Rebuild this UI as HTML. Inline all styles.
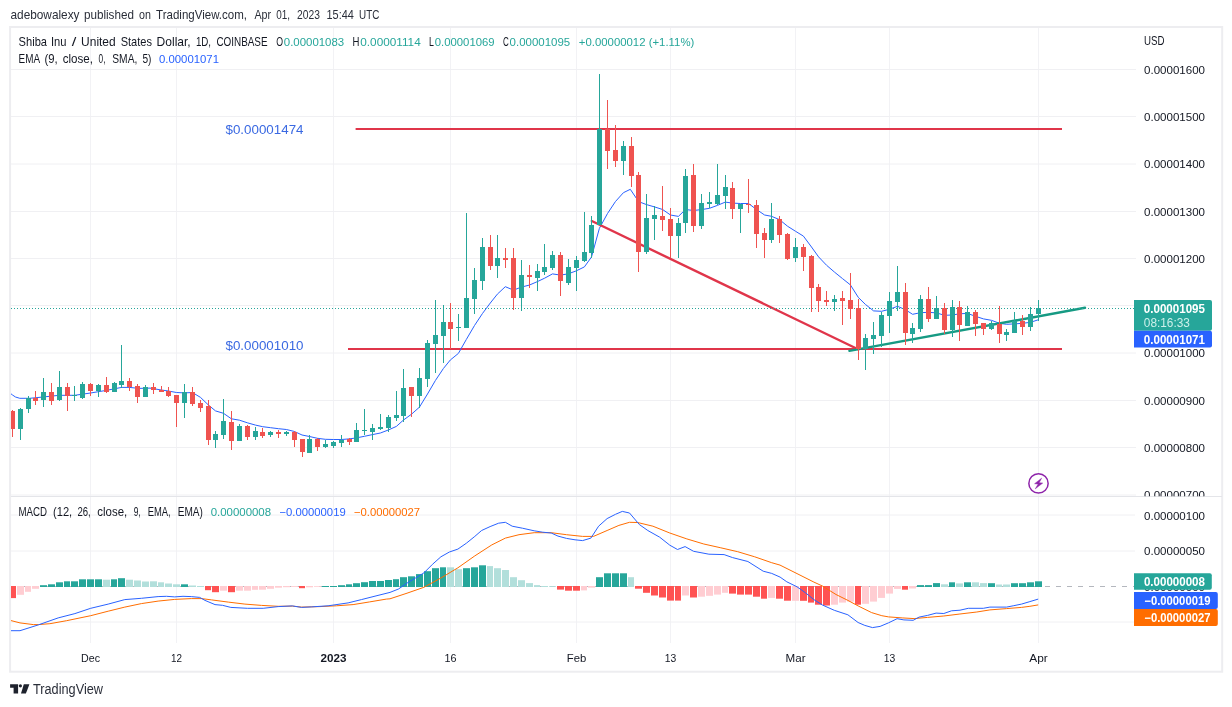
<!DOCTYPE html>
<html lang="en"><head><meta charset="utf-8"><title>SHIBUSD chart</title>
<style>html,body{margin:0;padding:0;background:#fff;}body{width:1232px;height:707px;overflow:hidden;}svg{display:block;}</style>
</head><body>
<svg width="1232" height="707" viewBox="0 0 1232 707" font-family='"Liberation Sans", Arial, sans-serif'>
<rect width="1232" height="707" fill="#ffffff"/>
<text y="18.9" font-size="13" fill="#2a2e39" font-weight="normal"><tspan x="10.5" textLength="69.0" lengthAdjust="spacingAndGlyphs">adebowalexy</tspan> <tspan x="83.9" textLength="50.0" lengthAdjust="spacingAndGlyphs">published</tspan> <tspan x="139.1" textLength="11.9" lengthAdjust="spacingAndGlyphs">on</tspan> <tspan x="156.1" textLength="90.9" lengthAdjust="spacingAndGlyphs">TradingView.com,</tspan> <tspan x="254.5" textLength="16.6" lengthAdjust="spacingAndGlyphs">Apr</tspan> <tspan x="276.2" textLength="13.8" lengthAdjust="spacingAndGlyphs">01,</tspan> <tspan x="297.1" textLength="22.9" lengthAdjust="spacingAndGlyphs">2023</tspan> <tspan x="326.5" textLength="27.4" lengthAdjust="spacingAndGlyphs">15:44</tspan> <tspan x="359.0" textLength="20.3" lengthAdjust="spacingAndGlyphs">UTC</tspan></text>
<rect x="10.1" y="27" width="1212.1" height="644.7" fill="#ffffff" stroke="#ededf0" stroke-width="2"/>
<line x1="90.5" y1="28" x2="90.5" y2="643" stroke="#f2f2f5" stroke-width="1"/>
<line x1="176.5" y1="28" x2="176.5" y2="643" stroke="#f2f2f5" stroke-width="1"/>
<line x1="333.5" y1="28" x2="333.5" y2="643" stroke="#f2f2f5" stroke-width="1"/>
<line x1="450.5" y1="28" x2="450.5" y2="643" stroke="#f2f2f5" stroke-width="1"/>
<line x1="576.5" y1="28" x2="576.5" y2="643" stroke="#f2f2f5" stroke-width="1"/>
<line x1="670.5" y1="28" x2="670.5" y2="643" stroke="#f2f2f5" stroke-width="1"/>
<line x1="795.5" y1="28" x2="795.5" y2="643" stroke="#f2f2f5" stroke-width="1"/>
<line x1="889.5" y1="28" x2="889.5" y2="643" stroke="#f2f2f5" stroke-width="1"/>
<line x1="1038.5" y1="28" x2="1038.5" y2="643" stroke="#f2f2f5" stroke-width="1"/>
<line x1="11" y1="69.5" x2="1136" y2="69.5" stroke="#f0f0f3" stroke-width="1"/>
<line x1="11" y1="116.5" x2="1136" y2="116.5" stroke="#f0f0f3" stroke-width="1"/>
<line x1="11" y1="164" x2="1136" y2="164" stroke="#f0f0f3" stroke-width="1"/>
<line x1="11" y1="211.5" x2="1136" y2="211.5" stroke="#f0f0f3" stroke-width="1"/>
<line x1="11" y1="258.5" x2="1136" y2="258.5" stroke="#f0f0f3" stroke-width="1"/>
<line x1="11" y1="305.5" x2="1136" y2="305.5" stroke="#f0f0f3" stroke-width="1"/>
<line x1="11" y1="353" x2="1136" y2="353" stroke="#f0f0f3" stroke-width="1"/>
<line x1="11" y1="400.5" x2="1136" y2="400.5" stroke="#f0f0f3" stroke-width="1"/>
<line x1="11" y1="447.5" x2="1136" y2="447.5" stroke="#f0f0f3" stroke-width="1"/>
<line x1="11" y1="495" x2="1136" y2="495" stroke="#f0f0f3" stroke-width="1"/>
<line x1="11" y1="515" x2="1135" y2="515" stroke="#f0f0f3" stroke-width="1"/>
<line x1="11" y1="551" x2="1135" y2="551" stroke="#f0f0f3" stroke-width="1"/>
<line x1="11" y1="622" x2="1135" y2="622" stroke="#f0f0f3" stroke-width="1"/>
<line x1="11" y1="496.5" x2="1222" y2="496.5" stroke="#e4e5e9" stroke-width="1"/>
<defs><clipPath id="cm"><rect x="11" y="28" width="1123" height="468"/></clipPath><clipPath id="ca"><rect x="1134" y="28" width="88" height="468.3"/></clipPath><clipPath id="cd"><rect x="11" y="497" width="1123" height="146"/></clipPath></defs>
<g clip-path="url(#cm)">
<line x1="355.6" y1="129" x2="1062" y2="129" stroke="#e0354a" stroke-width="2"/>
<line x1="348" y1="349" x2="1062" y2="349" stroke="#e0354a" stroke-width="2"/>
<polyline points="10.0,393.0 12.5,395.0 15.5,397.0 19.8,398.3 29.7,398.3 40.0,397.3 59.4,395.3 74.7,395.3 90.5,393.0 106.3,390.4 121.6,387.4 129.5,387.4 138.6,388.4 150.0,388.1 161.3,390.0 168.4,391.0 176.5,392.5 184.5,392.9 192.4,392.5 200.5,397.4 208.4,405.0 215.5,410.9 223.5,413.3 231.4,418.8 239.5,420.2 247.4,422.8 255.5,425.1 262.7,426.7 270.6,427.7 278.5,428.7 286.4,429.5 294.5,431.5 302.0,435.0 309.5,436.5 317.4,438.3 325.3,439.3 333.3,439.5 341.4,439.5 349.3,438.9 356.4,437.9 364.4,436.3 372.5,434.6 380.4,433.0 388.3,430.0 396.4,426.4 403.4,420.1 411.5,414.2 419.4,407.2 427.5,394.0 435.4,380.5 443.4,368.5 450.3,360.0 458.4,353.4 466.3,339.5 474.5,325.5 482.4,313.6 490.3,303.0 497.4,294.1 505.3,286.7 513.5,290.1 521.4,287.1 529.3,285.1 537.4,281.6 544.6,278.2 552.5,273.9 560.6,275.1 568.3,273.8 576.2,270.9 584.4,266.9 591.5,257.0 599.4,228.3 607.5,213.5 615.4,201.6 623.4,192.7 630.3,189.3 638.6,201.6 646.5,204.6 654.5,206.9 662.6,209.5 670.5,215.0 678.4,216.4 685.5,209.5 693.5,210.5 701.4,209.6 709.5,208.3 717.4,205.4 725.3,202.1 732.5,203.1 740.6,203.5 748.5,203.5 756.4,209.4 764.6,215.0 771.5,216.3 779.6,219.7 787.5,226.2 795.4,231.2 803.4,236.1 811.5,247.0 818.6,256.9 826.6,265.3 834.6,272.2 842.5,278.6 850.4,284.9 858.3,297.4 865.4,304.4 873.6,310.9 881.5,311.3 889.4,309.3 897.5,306.3 905.4,309.7 912.6,314.3 920.5,312.7 928.6,312.3 936.5,312.9 944.5,315.3 952.4,315.0 959.5,313.8 967.4,313.4 975.5,316.3 983.5,318.9 991.4,320.3 999.5,323.3 1006.4,324.3 1014.6,323.9 1022.5,323.3 1030.6,322.3 1038.5,319.7" fill="none" stroke="#2962ff" stroke-width="1" stroke-linejoin="round"/>
<line x1="591.8" y1="221" x2="857.5" y2="349" stroke="#e0354a" stroke-width="2.4" stroke-linecap="round"/>
<line x1="849.4" y1="350.9" x2="1085" y2="307.8" stroke="#169a83" stroke-width="2.4" stroke-linecap="round"/>
<line x1="11" y1="308.5" x2="1134" y2="308.5" stroke="#26a69a" stroke-width="1" stroke-dasharray="1 2"/>
<rect x="12" y="410" width="1" height="27" fill="#ef5350"/>
<rect x="10" y="411" width="5" height="18" fill="#ef5350"/>
<rect x="20" y="408" width="1" height="32" fill="#26a69a"/>
<rect x="18" y="409" width="5" height="20" fill="#26a69a"/>
<rect x="28" y="396" width="1" height="17" fill="#26a69a"/>
<rect x="26" y="398" width="5" height="11" fill="#26a69a"/>
<rect x="35" y="391" width="1" height="14" fill="#ef5350"/>
<rect x="33" y="398" width="5" height="3" fill="#ef5350"/>
<rect x="43" y="378" width="1" height="29" fill="#26a69a"/>
<rect x="41" y="392" width="5" height="8" fill="#26a69a"/>
<rect x="51" y="383" width="1" height="22" fill="#ef5350"/>
<rect x="49" y="392" width="5" height="9" fill="#ef5350"/>
<rect x="59" y="371" width="1" height="30" fill="#26a69a"/>
<rect x="57" y="387" width="5" height="13" fill="#26a69a"/>
<rect x="67" y="383" width="1" height="28" fill="#ef5350"/>
<rect x="65" y="387" width="5" height="9" fill="#ef5350"/>
<rect x="74" y="386" width="1" height="15" fill="#26a69a"/>
<rect x="72" y="395" width="5" height="1" fill="#26a69a"/>
<rect x="82" y="382" width="1" height="17" fill="#26a69a"/>
<rect x="80" y="384" width="5" height="14" fill="#26a69a"/>
<rect x="90" y="383" width="1" height="13" fill="#ef5350"/>
<rect x="88" y="384" width="5" height="7" fill="#ef5350"/>
<rect x="98" y="384" width="1" height="13" fill="#26a69a"/>
<rect x="96" y="385" width="5" height="6" fill="#26a69a"/>
<rect x="106" y="377" width="1" height="16" fill="#ef5350"/>
<rect x="104" y="385" width="5" height="7" fill="#ef5350"/>
<rect x="114" y="382" width="1" height="10" fill="#26a69a"/>
<rect x="112" y="383" width="5" height="9" fill="#26a69a"/>
<rect x="121" y="345" width="1" height="43" fill="#26a69a"/>
<rect x="119" y="381" width="5" height="4" fill="#26a69a"/>
<rect x="129" y="378" width="1" height="13" fill="#ef5350"/>
<rect x="127" y="381" width="5" height="6" fill="#ef5350"/>
<rect x="137" y="384" width="1" height="19" fill="#ef5350"/>
<rect x="135" y="386" width="5" height="11" fill="#ef5350"/>
<rect x="145" y="385" width="1" height="12" fill="#26a69a"/>
<rect x="143" y="387" width="5" height="10" fill="#26a69a"/>
<rect x="153" y="383" width="1" height="11" fill="#ef5350"/>
<rect x="151" y="387" width="5" height="3" fill="#ef5350"/>
<rect x="161" y="386" width="1" height="6" fill="#ef5350"/>
<rect x="159" y="390" width="5" height="2" fill="#ef5350"/>
<rect x="168" y="387" width="1" height="10" fill="#ef5350"/>
<rect x="166" y="391" width="5" height="5" fill="#ef5350"/>
<rect x="176" y="395" width="1" height="32" fill="#ef5350"/>
<rect x="174" y="395" width="5" height="8" fill="#ef5350"/>
<rect x="184" y="384" width="1" height="34" fill="#26a69a"/>
<rect x="182" y="392" width="5" height="11" fill="#26a69a"/>
<rect x="192" y="387" width="1" height="19" fill="#ef5350"/>
<rect x="190" y="392" width="5" height="12" fill="#ef5350"/>
<rect x="200" y="400" width="1" height="12" fill="#ef5350"/>
<rect x="198" y="403" width="5" height="5" fill="#ef5350"/>
<rect x="208" y="400" width="1" height="45" fill="#ef5350"/>
<rect x="206" y="406" width="5" height="34" fill="#ef5350"/>
<rect x="215" y="431" width="1" height="17" fill="#26a69a"/>
<rect x="213" y="434" width="5" height="6" fill="#26a69a"/>
<rect x="223" y="399" width="1" height="40" fill="#26a69a"/>
<rect x="221" y="421" width="5" height="14" fill="#26a69a"/>
<rect x="231" y="411" width="1" height="39" fill="#ef5350"/>
<rect x="229" y="422" width="5" height="19" fill="#ef5350"/>
<rect x="239" y="424" width="1" height="17" fill="#26a69a"/>
<rect x="237" y="426" width="5" height="15" fill="#26a69a"/>
<rect x="247" y="425" width="1" height="15" fill="#ef5350"/>
<rect x="245" y="426" width="5" height="11" fill="#ef5350"/>
<rect x="255" y="427" width="1" height="13" fill="#26a69a"/>
<rect x="253" y="431" width="5" height="6" fill="#26a69a"/>
<rect x="262" y="428" width="1" height="10" fill="#ef5350"/>
<rect x="260" y="432" width="5" height="4" fill="#ef5350"/>
<rect x="270" y="431" width="1" height="6" fill="#26a69a"/>
<rect x="268" y="432" width="5" height="3" fill="#26a69a"/>
<rect x="278" y="430" width="1" height="8" fill="#ef5350"/>
<rect x="276" y="432" width="5" height="2" fill="#ef5350"/>
<rect x="286" y="431" width="1" height="5" fill="#26a69a"/>
<rect x="284" y="432" width="5" height="2" fill="#26a69a"/>
<rect x="294" y="431" width="1" height="16" fill="#ef5350"/>
<rect x="292" y="432" width="5" height="8" fill="#ef5350"/>
<rect x="302" y="439" width="1" height="18" fill="#ef5350"/>
<rect x="300" y="439" width="5" height="13" fill="#ef5350"/>
<rect x="309" y="435" width="1" height="18" fill="#26a69a"/>
<rect x="307" y="439" width="5" height="14" fill="#26a69a"/>
<rect x="317" y="438" width="1" height="13" fill="#ef5350"/>
<rect x="315" y="439" width="5" height="8" fill="#ef5350"/>
<rect x="325" y="440" width="1" height="8" fill="#26a69a"/>
<rect x="323" y="444" width="5" height="3" fill="#26a69a"/>
<rect x="333" y="441" width="1" height="7" fill="#26a69a"/>
<rect x="331" y="442" width="5" height="4" fill="#26a69a"/>
<rect x="341" y="435" width="1" height="12" fill="#26a69a"/>
<rect x="339" y="440" width="5" height="3" fill="#26a69a"/>
<rect x="349" y="438" width="1" height="7" fill="#ef5350"/>
<rect x="347" y="439" width="5" height="3" fill="#ef5350"/>
<rect x="356" y="423" width="1" height="19" fill="#26a69a"/>
<rect x="354" y="430" width="5" height="12" fill="#26a69a"/>
<rect x="364" y="409" width="1" height="26" fill="#26a69a"/>
<rect x="362" y="430" width="5" height="1" fill="#26a69a"/>
<rect x="372" y="424" width="1" height="16" fill="#26a69a"/>
<rect x="370" y="428" width="5" height="4" fill="#26a69a"/>
<rect x="380" y="414" width="1" height="16" fill="#26a69a"/>
<rect x="378" y="427" width="5" height="2" fill="#26a69a"/>
<rect x="388" y="415" width="1" height="17" fill="#26a69a"/>
<rect x="386" y="417" width="5" height="11" fill="#26a69a"/>
<rect x="396" y="391" width="1" height="30" fill="#26a69a"/>
<rect x="394" y="415" width="5" height="3" fill="#26a69a"/>
<rect x="403" y="369" width="1" height="53" fill="#26a69a"/>
<rect x="401" y="388" width="5" height="28" fill="#26a69a"/>
<rect x="411" y="387" width="1" height="30" fill="#ef5350"/>
<rect x="409" y="387" width="5" height="9" fill="#ef5350"/>
<rect x="419" y="368" width="1" height="40" fill="#26a69a"/>
<rect x="417" y="378" width="5" height="18" fill="#26a69a"/>
<rect x="427" y="340" width="1" height="47" fill="#26a69a"/>
<rect x="425" y="343" width="5" height="36" fill="#26a69a"/>
<rect x="435" y="300" width="1" height="73" fill="#26a69a"/>
<rect x="433" y="335" width="5" height="9" fill="#26a69a"/>
<rect x="443" y="305" width="1" height="58" fill="#26a69a"/>
<rect x="441" y="322" width="5" height="14" fill="#26a69a"/>
<rect x="450" y="303" width="1" height="46" fill="#ef5350"/>
<rect x="448" y="322" width="5" height="7" fill="#ef5350"/>
<rect x="458" y="314" width="1" height="27" fill="#26a69a"/>
<rect x="456" y="327" width="5" height="1" fill="#26a69a"/>
<rect x="466" y="213" width="1" height="115" fill="#26a69a"/>
<rect x="464" y="298" width="5" height="30" fill="#26a69a"/>
<rect x="474" y="268" width="1" height="46" fill="#26a69a"/>
<rect x="472" y="280" width="5" height="19" fill="#26a69a"/>
<rect x="482" y="238" width="1" height="52" fill="#26a69a"/>
<rect x="480" y="247" width="5" height="34" fill="#26a69a"/>
<rect x="490" y="235" width="1" height="35" fill="#ef5350"/>
<rect x="488" y="247" width="5" height="19" fill="#ef5350"/>
<rect x="497" y="235" width="1" height="43" fill="#26a69a"/>
<rect x="495" y="258" width="5" height="8" fill="#26a69a"/>
<rect x="505" y="248" width="1" height="20" fill="#ef5350"/>
<rect x="503" y="258" width="5" height="2" fill="#ef5350"/>
<rect x="513" y="248" width="1" height="62" fill="#ef5350"/>
<rect x="511" y="258" width="5" height="40" fill="#ef5350"/>
<rect x="521" y="260" width="1" height="51" fill="#26a69a"/>
<rect x="519" y="275" width="5" height="23" fill="#26a69a"/>
<rect x="529" y="265" width="1" height="23" fill="#ef5350"/>
<rect x="527" y="275" width="5" height="2" fill="#ef5350"/>
<rect x="537" y="264" width="1" height="27" fill="#26a69a"/>
<rect x="535" y="271" width="5" height="7" fill="#26a69a"/>
<rect x="544" y="244" width="1" height="31" fill="#26a69a"/>
<rect x="542" y="267" width="5" height="5" fill="#26a69a"/>
<rect x="552" y="251" width="1" height="19" fill="#26a69a"/>
<rect x="550" y="255" width="5" height="13" fill="#26a69a"/>
<rect x="560" y="252" width="1" height="44" fill="#ef5350"/>
<rect x="558" y="255" width="5" height="26" fill="#ef5350"/>
<rect x="568" y="259" width="1" height="26" fill="#26a69a"/>
<rect x="566" y="267" width="5" height="16" fill="#26a69a"/>
<rect x="576" y="256" width="1" height="35" fill="#26a69a"/>
<rect x="574" y="260" width="5" height="8" fill="#26a69a"/>
<rect x="584" y="212" width="1" height="50" fill="#26a69a"/>
<rect x="582" y="252" width="5" height="9" fill="#26a69a"/>
<rect x="591" y="216" width="1" height="42" fill="#26a69a"/>
<rect x="589" y="225" width="5" height="28" fill="#26a69a"/>
<rect x="599" y="74" width="1" height="151" fill="#26a69a"/>
<rect x="597" y="129" width="5" height="96" fill="#26a69a"/>
<rect x="607" y="100" width="1" height="69" fill="#ef5350"/>
<rect x="605" y="129" width="5" height="22" fill="#ef5350"/>
<rect x="615" y="125" width="1" height="42" fill="#ef5350"/>
<rect x="613" y="150" width="5" height="11" fill="#ef5350"/>
<rect x="623" y="141" width="1" height="34" fill="#26a69a"/>
<rect x="621" y="146" width="5" height="15" fill="#26a69a"/>
<rect x="631" y="137" width="1" height="50" fill="#ef5350"/>
<rect x="629" y="146" width="5" height="30" fill="#ef5350"/>
<rect x="638" y="172" width="1" height="100" fill="#ef5350"/>
<rect x="636" y="175" width="5" height="77" fill="#ef5350"/>
<rect x="646" y="194" width="1" height="60" fill="#26a69a"/>
<rect x="644" y="218" width="5" height="34" fill="#26a69a"/>
<rect x="654" y="206" width="1" height="34" fill="#26a69a"/>
<rect x="652" y="215" width="5" height="4" fill="#26a69a"/>
<rect x="662" y="186" width="1" height="45" fill="#ef5350"/>
<rect x="660" y="216" width="5" height="4" fill="#ef5350"/>
<rect x="670" y="208" width="1" height="50" fill="#ef5350"/>
<rect x="668" y="219" width="5" height="17" fill="#ef5350"/>
<rect x="678" y="218" width="1" height="40" fill="#26a69a"/>
<rect x="676" y="223" width="5" height="13" fill="#26a69a"/>
<rect x="685" y="169" width="1" height="64" fill="#26a69a"/>
<rect x="683" y="176" width="5" height="47" fill="#26a69a"/>
<rect x="693" y="164" width="1" height="68" fill="#ef5350"/>
<rect x="691" y="175" width="5" height="51" fill="#ef5350"/>
<rect x="701" y="194" width="1" height="35" fill="#26a69a"/>
<rect x="699" y="203" width="5" height="23" fill="#26a69a"/>
<rect x="709" y="192" width="1" height="16" fill="#26a69a"/>
<rect x="707" y="202" width="5" height="2" fill="#26a69a"/>
<rect x="717" y="164" width="1" height="41" fill="#26a69a"/>
<rect x="715" y="195" width="5" height="9" fill="#26a69a"/>
<rect x="725" y="175" width="1" height="34" fill="#26a69a"/>
<rect x="723" y="187" width="5" height="9" fill="#26a69a"/>
<rect x="732" y="182" width="1" height="37" fill="#ef5350"/>
<rect x="730" y="188" width="5" height="21" fill="#ef5350"/>
<rect x="740" y="204" width="1" height="29" fill="#26a69a"/>
<rect x="738" y="204" width="5" height="5" fill="#26a69a"/>
<rect x="748" y="179" width="1" height="34" fill="#ef5350"/>
<rect x="746" y="204" width="5" height="1" fill="#ef5350"/>
<rect x="756" y="200" width="1" height="48" fill="#ef5350"/>
<rect x="754" y="205" width="5" height="29" fill="#ef5350"/>
<rect x="764" y="228" width="1" height="30" fill="#ef5350"/>
<rect x="762" y="233" width="5" height="7" fill="#ef5350"/>
<rect x="771" y="203" width="1" height="40" fill="#26a69a"/>
<rect x="769" y="219" width="5" height="21" fill="#26a69a"/>
<rect x="779" y="216" width="1" height="27" fill="#ef5350"/>
<rect x="777" y="219" width="5" height="16" fill="#ef5350"/>
<rect x="787" y="233" width="1" height="27" fill="#ef5350"/>
<rect x="785" y="234" width="5" height="25" fill="#ef5350"/>
<rect x="795" y="238" width="1" height="24" fill="#26a69a"/>
<rect x="793" y="247" width="5" height="11" fill="#26a69a"/>
<rect x="803" y="244" width="1" height="27" fill="#ef5350"/>
<rect x="801" y="247" width="5" height="10" fill="#ef5350"/>
<rect x="811" y="255" width="1" height="57" fill="#ef5350"/>
<rect x="809" y="256" width="5" height="32" fill="#ef5350"/>
<rect x="818" y="284" width="1" height="28" fill="#ef5350"/>
<rect x="816" y="287" width="5" height="14" fill="#ef5350"/>
<rect x="826" y="291" width="1" height="15" fill="#ef5350"/>
<rect x="824" y="300" width="5" height="2" fill="#ef5350"/>
<rect x="834" y="295" width="1" height="16" fill="#26a69a"/>
<rect x="832" y="299" width="5" height="3" fill="#26a69a"/>
<rect x="842" y="291" width="1" height="34" fill="#ef5350"/>
<rect x="840" y="298" width="5" height="3" fill="#ef5350"/>
<rect x="850" y="273" width="1" height="46" fill="#ef5350"/>
<rect x="848" y="300" width="5" height="9" fill="#ef5350"/>
<rect x="858" y="299" width="1" height="61" fill="#ef5350"/>
<rect x="856" y="308" width="5" height="41" fill="#ef5350"/>
<rect x="865" y="334" width="1" height="36" fill="#26a69a"/>
<rect x="863" y="338" width="5" height="11" fill="#26a69a"/>
<rect x="873" y="322" width="1" height="32" fill="#26a69a"/>
<rect x="871" y="335" width="5" height="4" fill="#26a69a"/>
<rect x="881" y="312" width="1" height="35" fill="#26a69a"/>
<rect x="879" y="315" width="5" height="21" fill="#26a69a"/>
<rect x="889" y="292" width="1" height="41" fill="#26a69a"/>
<rect x="887" y="301" width="5" height="15" fill="#26a69a"/>
<rect x="897" y="266" width="1" height="45" fill="#26a69a"/>
<rect x="895" y="292" width="5" height="10" fill="#26a69a"/>
<rect x="905" y="283" width="1" height="62" fill="#ef5350"/>
<rect x="903" y="292" width="5" height="41" fill="#ef5350"/>
<rect x="912" y="323" width="1" height="20" fill="#26a69a"/>
<rect x="910" y="328" width="5" height="6" fill="#26a69a"/>
<rect x="920" y="295" width="1" height="37" fill="#26a69a"/>
<rect x="918" y="299" width="5" height="30" fill="#26a69a"/>
<rect x="928" y="287" width="1" height="35" fill="#ef5350"/>
<rect x="926" y="299" width="5" height="20" fill="#ef5350"/>
<rect x="936" y="296" width="1" height="23" fill="#26a69a"/>
<rect x="934" y="308" width="5" height="11" fill="#26a69a"/>
<rect x="944" y="303" width="1" height="31" fill="#ef5350"/>
<rect x="942" y="308" width="5" height="22" fill="#ef5350"/>
<rect x="952" y="300" width="1" height="37" fill="#26a69a"/>
<rect x="950" y="307" width="5" height="23" fill="#26a69a"/>
<rect x="959" y="301" width="1" height="40" fill="#ef5350"/>
<rect x="957" y="307" width="5" height="18" fill="#ef5350"/>
<rect x="967" y="306" width="1" height="20" fill="#26a69a"/>
<rect x="965" y="312" width="5" height="14" fill="#26a69a"/>
<rect x="975" y="310" width="1" height="26" fill="#ef5350"/>
<rect x="973" y="312" width="5" height="12" fill="#ef5350"/>
<rect x="983" y="323" width="1" height="12" fill="#ef5350"/>
<rect x="981" y="323" width="5" height="6" fill="#ef5350"/>
<rect x="991" y="321" width="1" height="9" fill="#26a69a"/>
<rect x="989" y="323" width="5" height="6" fill="#26a69a"/>
<rect x="999" y="306" width="1" height="37" fill="#ef5350"/>
<rect x="997" y="324" width="5" height="10" fill="#ef5350"/>
<rect x="1006" y="329" width="1" height="12" fill="#26a69a"/>
<rect x="1004" y="332" width="5" height="3" fill="#26a69a"/>
<rect x="1014" y="312" width="1" height="21" fill="#26a69a"/>
<rect x="1012" y="321" width="5" height="12" fill="#26a69a"/>
<rect x="1022" y="315" width="1" height="20" fill="#ef5350"/>
<rect x="1020" y="321" width="5" height="6" fill="#ef5350"/>
<rect x="1030" y="307" width="1" height="24" fill="#26a69a"/>
<rect x="1028" y="314" width="5" height="13" fill="#26a69a"/>
<rect x="1038" y="300" width="1" height="21" fill="#26a69a"/>
<rect x="1036" y="308" width="5" height="6" fill="#26a69a"/>
</g>
<text x="225.5" y="133.8" font-size="13.6" fill="#3a69e2" font-weight="normal" text-anchor="start" textLength="78.0" lengthAdjust="spacingAndGlyphs">$0.00001474</text>
<text x="225.5" y="349.7" font-size="13.6" fill="#3a69e2" font-weight="normal" text-anchor="start" textLength="78.0" lengthAdjust="spacingAndGlyphs">$0.00001010</text>
<g clip-path="url(#cd)">
<line x1="11" y1="586.5" x2="1134" y2="586.5" stroke="#b4b7be" stroke-width="1" stroke-dasharray="5 6"/>
<rect x="9" y="586.00" width="7" height="12.10" fill="#ff5252"/>
<rect x="17" y="586.00" width="7" height="8.80" fill="#ffcdd2"/>
<rect x="25" y="586.00" width="6" height="5.80" fill="#ffcdd2"/>
<rect x="32" y="586.00" width="7" height="2.80" fill="#ffcdd2"/>
<rect x="40" y="585.20" width="7" height="1.80" fill="#26a69a"/>
<rect x="48" y="584.30" width="7" height="2.70" fill="#26a69a"/>
<rect x="56" y="582.30" width="7" height="4.70" fill="#26a69a"/>
<rect x="64" y="581.30" width="6" height="5.70" fill="#26a69a"/>
<rect x="71" y="581.30" width="7" height="5.70" fill="#26a69a"/>
<rect x="79" y="579.30" width="7" height="7.70" fill="#26a69a"/>
<rect x="87" y="579.30" width="7" height="7.70" fill="#26a69a"/>
<rect x="95" y="579.30" width="7" height="7.70" fill="#26a69a"/>
<rect x="103" y="579.70" width="7" height="7.30" fill="#b2dfdb"/>
<rect x="111" y="579.30" width="6" height="7.70" fill="#26a69a"/>
<rect x="118" y="578.20" width="7" height="8.80" fill="#26a69a"/>
<rect x="126" y="579.70" width="7" height="7.30" fill="#b2dfdb"/>
<rect x="134" y="580.50" width="7" height="6.50" fill="#b2dfdb"/>
<rect x="142" y="581.50" width="7" height="5.50" fill="#b2dfdb"/>
<rect x="150" y="581.30" width="7" height="5.70" fill="#b2dfdb"/>
<rect x="158" y="582.30" width="6" height="4.70" fill="#b2dfdb"/>
<rect x="165" y="583.50" width="7" height="3.50" fill="#b2dfdb"/>
<rect x="173" y="584.30" width="7" height="2.70" fill="#b2dfdb"/>
<rect x="181" y="584.30" width="7" height="2.70" fill="#26a69a"/>
<rect x="189" y="585.50" width="7" height="1.50" fill="#b2dfdb"/>
<rect x="197" y="586.00" width="7" height="1.00" fill="#b2dfdb"/>
<rect x="205" y="586.00" width="6" height="4.20" fill="#ff5252"/>
<rect x="212" y="586.00" width="7" height="6.20" fill="#ff5252"/>
<rect x="220" y="586.00" width="7" height="4.70" fill="#ffcdd2"/>
<rect x="228" y="586.00" width="7" height="6.20" fill="#ff5252"/>
<rect x="236" y="586.00" width="7" height="4.70" fill="#ffcdd2"/>
<rect x="244" y="586.00" width="7" height="4.70" fill="#ffcdd2"/>
<rect x="252" y="586.00" width="6" height="3.80" fill="#ffcdd2"/>
<rect x="259" y="586.00" width="7" height="3.70" fill="#ffcdd2"/>
<rect x="267" y="586.00" width="7" height="2.80" fill="#ffcdd2"/>
<rect x="275" y="586.00" width="7" height="1.70" fill="#ffcdd2"/>
<rect x="283" y="586.00" width="7" height="1.20" fill="#ffcdd2"/>
<rect x="291" y="586.00" width="7" height="0.90" fill="#ffcdd2"/>
<rect x="299" y="586.00" width="6" height="2.20" fill="#ff5252"/>
<rect x="306" y="586.00" width="7" height="1.30" fill="#ffcdd2"/>
<rect x="314" y="586.00" width="7" height="0.80" fill="#ffcdd2"/>
<rect x="322" y="586.00" width="7" height="1.00" fill="#26a69a"/>
<rect x="330" y="586.00" width="7" height="1.00" fill="#26a69a"/>
<rect x="338" y="585.20" width="7" height="1.80" fill="#26a69a"/>
<rect x="346" y="584.30" width="6" height="2.70" fill="#26a69a"/>
<rect x="353" y="583.20" width="7" height="3.80" fill="#26a69a"/>
<rect x="361" y="582.20" width="7" height="4.80" fill="#26a69a"/>
<rect x="369" y="581.00" width="7" height="6.00" fill="#26a69a"/>
<rect x="377" y="581.00" width="7" height="6.00" fill="#26a69a"/>
<rect x="385" y="580.00" width="7" height="7.00" fill="#26a69a"/>
<rect x="393" y="579.20" width="6" height="7.80" fill="#26a69a"/>
<rect x="400" y="577.20" width="7" height="9.80" fill="#26a69a"/>
<rect x="408" y="576.30" width="7" height="10.70" fill="#26a69a"/>
<rect x="416" y="574.10" width="7" height="12.90" fill="#26a69a"/>
<rect x="424" y="571.20" width="7" height="15.80" fill="#26a69a"/>
<rect x="432" y="568.20" width="7" height="18.80" fill="#26a69a"/>
<rect x="440" y="567.30" width="6" height="19.70" fill="#26a69a"/>
<rect x="447" y="567.30" width="7" height="19.70" fill="#b2dfdb"/>
<rect x="455" y="569.20" width="7" height="17.80" fill="#b2dfdb"/>
<rect x="463" y="568.20" width="7" height="18.80" fill="#26a69a"/>
<rect x="471" y="567.30" width="7" height="19.70" fill="#26a69a"/>
<rect x="479" y="565.30" width="7" height="21.70" fill="#26a69a"/>
<rect x="487" y="566.10" width="6" height="20.90" fill="#b2dfdb"/>
<rect x="494" y="568.20" width="7" height="18.80" fill="#b2dfdb"/>
<rect x="502" y="570.00" width="7" height="17.00" fill="#b2dfdb"/>
<rect x="510" y="577.20" width="7" height="9.80" fill="#b2dfdb"/>
<rect x="518" y="580.20" width="7" height="6.80" fill="#b2dfdb"/>
<rect x="526" y="583.10" width="7" height="3.90" fill="#b2dfdb"/>
<rect x="534" y="585.10" width="6" height="1.90" fill="#b2dfdb"/>
<rect x="541" y="586.00" width="7" height="1.00" fill="#b2dfdb"/>
<rect x="549" y="586.20" width="7" height="0.80" fill="#b2dfdb"/>
<rect x="557" y="586.00" width="7" height="3.60" fill="#ff5252"/>
<rect x="565" y="586.00" width="7" height="4.70" fill="#ff5252"/>
<rect x="573" y="586.00" width="7" height="4.70" fill="#ff5252"/>
<rect x="581" y="586.00" width="6" height="4.40" fill="#ffcdd2"/>
<rect x="588" y="586.00" width="7" height="1.70" fill="#ffcdd2"/>
<rect x="596" y="577.20" width="7" height="9.80" fill="#26a69a"/>
<rect x="604" y="573.30" width="7" height="13.70" fill="#26a69a"/>
<rect x="612" y="573.30" width="7" height="13.70" fill="#26a69a"/>
<rect x="620" y="573.30" width="7" height="13.70" fill="#26a69a"/>
<rect x="628" y="577.20" width="6" height="9.80" fill="#b2dfdb"/>
<rect x="635" y="586.00" width="7" height="2.70" fill="#ff5252"/>
<rect x="643" y="586.00" width="7" height="6.80" fill="#ff5252"/>
<rect x="651" y="586.00" width="7" height="9.50" fill="#ff5252"/>
<rect x="659" y="586.00" width="7" height="11.50" fill="#ff5252"/>
<rect x="667" y="586.00" width="7" height="14.60" fill="#ff5252"/>
<rect x="675" y="586.00" width="6" height="14.60" fill="#ff5252"/>
<rect x="682" y="586.00" width="7" height="9.50" fill="#ffcdd2"/>
<rect x="690" y="586.00" width="7" height="11.50" fill="#ff5252"/>
<rect x="698" y="586.00" width="7" height="10.70" fill="#ffcdd2"/>
<rect x="706" y="586.00" width="7" height="9.80" fill="#ffcdd2"/>
<rect x="714" y="586.00" width="7" height="8.60" fill="#ffcdd2"/>
<rect x="722" y="586.00" width="6" height="6.80" fill="#ffcdd2"/>
<rect x="729" y="586.00" width="7" height="7.60" fill="#ff5252"/>
<rect x="737" y="586.00" width="7" height="8.60" fill="#ff5252"/>
<rect x="745" y="586.00" width="7" height="8.60" fill="#ff5252"/>
<rect x="753" y="586.00" width="7" height="10.70" fill="#ff5252"/>
<rect x="761" y="586.00" width="6" height="12.70" fill="#ff5252"/>
<rect x="768" y="586.00" width="7" height="11.90" fill="#ffcdd2"/>
<rect x="776" y="586.00" width="7" height="12.70" fill="#ff5252"/>
<rect x="784" y="586.00" width="7" height="14.70" fill="#ff5252"/>
<rect x="792" y="586.00" width="7" height="14.80" fill="#ffcdd2"/>
<rect x="800" y="586.00" width="7" height="14.80" fill="#ff5252"/>
<rect x="808" y="586.00" width="6" height="16.60" fill="#ff5252"/>
<rect x="815" y="586.00" width="7" height="18.70" fill="#ff5252"/>
<rect x="823" y="586.00" width="7" height="19.50" fill="#ff5252"/>
<rect x="831" y="586.00" width="7" height="18.70" fill="#ffcdd2"/>
<rect x="839" y="586.00" width="7" height="16.60" fill="#ffcdd2"/>
<rect x="847" y="586.00" width="7" height="15.60" fill="#ffcdd2"/>
<rect x="855" y="586.00" width="6" height="18.70" fill="#ff5252"/>
<rect x="862" y="586.00" width="7" height="17.80" fill="#ffcdd2"/>
<rect x="870" y="586.00" width="7" height="15.60" fill="#ffcdd2"/>
<rect x="878" y="586.00" width="7" height="11.90" fill="#ffcdd2"/>
<rect x="886" y="586.00" width="7" height="7.60" fill="#ffcdd2"/>
<rect x="894" y="586.00" width="7" height="2.90" fill="#ffcdd2"/>
<rect x="902" y="586.00" width="6" height="3.70" fill="#ff5252"/>
<rect x="909" y="586.00" width="7" height="2.50" fill="#ffcdd2"/>
<rect x="917" y="585.10" width="7" height="1.90" fill="#26a69a"/>
<rect x="925" y="585.10" width="7" height="1.90" fill="#26a69a"/>
<rect x="933" y="583.10" width="7" height="3.90" fill="#26a69a"/>
<rect x="941" y="584.30" width="7" height="2.70" fill="#b2dfdb"/>
<rect x="949" y="582.30" width="6" height="4.70" fill="#26a69a"/>
<rect x="956" y="583.40" width="7" height="3.60" fill="#b2dfdb"/>
<rect x="964" y="582.30" width="7" height="4.70" fill="#26a69a"/>
<rect x="972" y="582.30" width="7" height="4.70" fill="#b2dfdb"/>
<rect x="980" y="583.10" width="7" height="3.90" fill="#b2dfdb"/>
<rect x="988" y="583.20" width="7" height="3.80" fill="#26a69a"/>
<rect x="996" y="584.50" width="6" height="2.50" fill="#b2dfdb"/>
<rect x="1003" y="584.50" width="7" height="2.50" fill="#b2dfdb"/>
<rect x="1011" y="583.20" width="7" height="3.80" fill="#26a69a"/>
<rect x="1019" y="583.20" width="7" height="3.80" fill="#26a69a"/>
<rect x="1027" y="582.30" width="7" height="4.70" fill="#26a69a"/>
<rect x="1035" y="581.30" width="7" height="5.70" fill="#26a69a"/>
<polyline points="10.3,620.4 20.0,622.9 33.3,624.6 38.3,624.6 49.9,623.7 66.6,620.7 90.7,615.7 108.2,611.2 124.8,607.1 141.4,603.6 158.1,601.1 174.7,599.4 191.3,598.6 201.7,598.6 211.6,599.9 228.3,602.1 244.9,604.1 261.6,605.4 278.2,606.3 292.3,606.1 301.5,607.1 319.8,606.6 336.4,605.8 353.1,604.6 369.7,601.9 386.3,599.1 390.0,598.8 407.0,593.2 423.9,587.3 440.9,578.0 457.9,567.8 474.8,555.9 491.8,544.9 505.4,538.1 519.0,534.7 534.2,532.7 551.2,532.7 566.5,534.7 582.6,536.4 593.5,536.4 607.1,530.5 618.9,525.4 629.5,522.3 637.6,522.5 652.9,526.2 669.8,533.0 686.8,538.9 703.8,544.0 720.8,547.8 737.7,551.7 754.7,556.8 771.7,562.7 780.0,565.1 797.0,573.6 813.9,582.1 822.4,586.0 836.0,594.5 847.9,600.4 858.1,605.9 871.6,612.6 881.8,615.7 888.6,616.9 902.2,617.9 914.1,618.6 927.6,617.4 943.8,616.0 959.9,614.0 976.8,612.0 989.9,609.9 1006.6,608.6 1021.5,607.4 1029.9,606.3 1038.2,604.9" fill="none" stroke="#ff6d00" stroke-width="1" stroke-linejoin="round"/>
<polyline points="10.3,630.7 20.0,630.7 38.3,624.9 58.2,617.9 74.9,613.6 90.7,608.3 108.2,604.1 124.8,599.6 141.4,598.3 158.1,596.6 166.4,596.3 174.7,596.9 183.0,596.3 191.3,596.6 199.7,597.4 205.0,600.4 215.0,604.6 222.5,605.3 230.8,607.4 247.4,608.3 263.2,608.3 278.2,606.6 292.3,605.9 301.5,607.4 311.5,606.9 328.1,605.8 348.1,602.9 361.4,599.6 378.0,595.4 390.0,592.4 398.5,589.0 407.0,583.1 415.5,578.0 423.9,572.9 432.4,564.4 440.9,556.8 449.4,552.0 457.9,549.1 466.4,543.2 474.8,536.4 481.6,530.5 490.1,526.6 498.6,523.2 505.4,522.3 512.2,526.2 522.4,528.2 534.2,530.8 542.7,532.2 551.2,533.0 558.0,536.1 566.5,538.4 575.0,539.8 582.6,540.6 590.9,538.1 598.6,526.2 607.1,518.6 615.5,514.3 622.3,511.4 629.5,513.0 639.3,524.5 647.8,530.5 659.7,537.2 669.8,545.2 677.5,549.5 685.1,546.6 693.6,551.3 708.9,554.2 724.1,554.6 732.6,557.6 747.9,561.5 763.2,571.2 771.7,573.4 780.1,577.1 786.8,581.8 797.0,586.8 805.5,592.8 813.9,599.6 822.4,605.0 834.3,610.3 847.9,614.8 858.1,622.5 864.8,625.4 872.5,627.6 880.1,626.4 888.6,622.8 897.1,618.7 903.9,619.9 913.2,620.3 919.1,617.1 927.6,615.4 936.1,613.1 943.8,613.5 951.5,610.8 960.0,610.2 968.3,608.3 983.3,608.3 989.9,607.1 1006.6,607.1 1013.2,605.8 1021.5,604.1 1029.9,601.6 1038.2,599.1" fill="none" stroke="#2962ff" stroke-width="1" stroke-linejoin="round"/>
</g>
<text y="45.9" font-size="12.1" fill="#131722" font-weight="normal"><tspan x="18.6" textLength="28.4" lengthAdjust="spacingAndGlyphs">Shiba</tspan> <tspan x="50.9" textLength="15.5" lengthAdjust="spacingAndGlyphs">Inu</tspan> <tspan x="71.8" textLength="4.6" lengthAdjust="spacingAndGlyphs">/</tspan> <tspan x="81.1" textLength="34.6" lengthAdjust="spacingAndGlyphs">United</tspan> <tspan x="120.7" textLength="31.3" lengthAdjust="spacingAndGlyphs">States</tspan> <tspan x="156.6" textLength="34.1" lengthAdjust="spacingAndGlyphs">Dollar,</tspan> <tspan x="195.9" textLength="15.2" lengthAdjust="spacingAndGlyphs">1D,</tspan> <tspan x="216.4" textLength="51.2" lengthAdjust="spacingAndGlyphs">COINBASE</tspan></text>
<text x="276.2" y="45.9" font-size="12.1" fill="#131722" font-weight="normal" text-anchor="start" textLength="6.8" lengthAdjust="spacingAndGlyphs">O</text>
<text x="283.8" y="45.9" font-size="11.5" fill="#26a69a" font-weight="normal" text-anchor="start" textLength="60.4" lengthAdjust="spacingAndGlyphs">0.00001083</text>
<text x="352.5" y="45.9" font-size="12.1" fill="#131722" font-weight="normal" text-anchor="start" textLength="6.9" lengthAdjust="spacingAndGlyphs">H</text>
<text x="360.3" y="45.9" font-size="11.5" fill="#26a69a" font-weight="normal" text-anchor="start" textLength="60.4" lengthAdjust="spacingAndGlyphs">0.00001114</text>
<text x="429.1" y="45.9" font-size="12.1" fill="#131722" font-weight="normal" text-anchor="start" textLength="4.9" lengthAdjust="spacingAndGlyphs">L</text>
<text x="434.8" y="45.9" font-size="11.5" fill="#26a69a" font-weight="normal" text-anchor="start" textLength="59.8" lengthAdjust="spacingAndGlyphs">0.00001069</text>
<text x="503.0" y="45.9" font-size="12.1" fill="#131722" font-weight="normal" text-anchor="start" textLength="5.8" lengthAdjust="spacingAndGlyphs">C</text>
<text x="509.6" y="45.9" font-size="11.5" fill="#26a69a" font-weight="normal" text-anchor="start" textLength="60.6" lengthAdjust="spacingAndGlyphs">0.00001095</text>
<text x="578.8" y="45.9" font-size="11.5" fill="#26a69a" font-weight="normal" text-anchor="start" textLength="115.5" lengthAdjust="spacingAndGlyphs">+0.00000012 (+1.11%)</text>
<text y="63.0" font-size="12.1" fill="#131722" font-weight="normal"><tspan x="18.6" textLength="20.9" lengthAdjust="spacingAndGlyphs">EMA</tspan> <tspan x="44.5" textLength="13.2" lengthAdjust="spacingAndGlyphs">(9,</tspan> <tspan x="62.7" textLength="30.3" lengthAdjust="spacingAndGlyphs">close,</tspan> <tspan x="98.6" textLength="6.9" lengthAdjust="spacingAndGlyphs">0,</tspan> <tspan x="112.3" textLength="25.0" lengthAdjust="spacingAndGlyphs">SMA,</tspan> <tspan x="142.5" textLength="9.0" lengthAdjust="spacingAndGlyphs">5)</tspan></text>
<text x="159.0" y="63.0" font-size="11.5" fill="#2962ff" font-weight="normal" text-anchor="start" textLength="60.0" lengthAdjust="spacingAndGlyphs">0.00001071</text>
<text y="515.6" font-size="12.1" fill="#131722" font-weight="normal"><tspan x="18.4" textLength="28.6" lengthAdjust="spacingAndGlyphs">MACD</tspan> <tspan x="53.0" textLength="19.2" lengthAdjust="spacingAndGlyphs">(12,</tspan> <tspan x="77.4" textLength="13.3" lengthAdjust="spacingAndGlyphs">26,</tspan> <tspan x="97.3" textLength="29.9" lengthAdjust="spacingAndGlyphs">close,</tspan> <tspan x="133.7" textLength="7.0" lengthAdjust="spacingAndGlyphs">9,</tspan> <tspan x="147.7" textLength="23.0" lengthAdjust="spacingAndGlyphs">EMA,</tspan> <tspan x="177.7" textLength="25.2" lengthAdjust="spacingAndGlyphs">EMA)</tspan></text>
<text x="210.7" y="515.6" font-size="11.5" fill="#26a69a" font-weight="normal" text-anchor="start" textLength="60.4" lengthAdjust="spacingAndGlyphs">0.00000008</text>
<text x="279.5" y="515.6" font-size="11.5" fill="#2962ff" font-weight="normal" text-anchor="start" textLength="66.2" lengthAdjust="spacingAndGlyphs">−0.00000019</text>
<text x="353.9" y="515.6" font-size="11.5" fill="#ff6d00" font-weight="normal" text-anchor="start" textLength="66.2" lengthAdjust="spacingAndGlyphs">−0.00000027</text>
<text x="1144.0" y="45.0" font-size="12.1" fill="#131722" font-weight="normal" text-anchor="start" textLength="20.5" lengthAdjust="spacingAndGlyphs">USD</text>
<text x="1144.0" y="73.8" font-size="11.5" fill="#131722" font-weight="normal" text-anchor="start" textLength="61.0" lengthAdjust="spacingAndGlyphs">0.00001600</text>
<text x="1144.0" y="120.8" font-size="11.5" fill="#131722" font-weight="normal" text-anchor="start" textLength="61.0" lengthAdjust="spacingAndGlyphs">0.00001500</text>
<text x="1144.0" y="167.8" font-size="11.5" fill="#131722" font-weight="normal" text-anchor="start" textLength="61.0" lengthAdjust="spacingAndGlyphs">0.00001400</text>
<text x="1144.0" y="215.8" font-size="11.5" fill="#131722" font-weight="normal" text-anchor="start" textLength="61.0" lengthAdjust="spacingAndGlyphs">0.00001300</text>
<text x="1144.0" y="263.0" font-size="11.5" fill="#131722" font-weight="normal" text-anchor="start" textLength="61.0" lengthAdjust="spacingAndGlyphs">0.00001200</text>
<text x="1144.0" y="310.2" font-size="11.5" fill="#131722" font-weight="normal" text-anchor="start" textLength="61.0" lengthAdjust="spacingAndGlyphs">0.00001100</text>
<text x="1144.0" y="357.2" font-size="11.5" fill="#131722" font-weight="normal" text-anchor="start" textLength="61.0" lengthAdjust="spacingAndGlyphs">0.00001000</text>
<text x="1144.0" y="404.8" font-size="11.5" fill="#131722" font-weight="normal" text-anchor="start" textLength="61.0" lengthAdjust="spacingAndGlyphs">0.00000900</text>
<text x="1144.0" y="451.9" font-size="11.5" fill="#131722" font-weight="normal" text-anchor="start" textLength="61.0" lengthAdjust="spacingAndGlyphs">0.00000800</text>
<g clip-path="url(#ca)">
<text x="1144.0" y="499.0" font-size="11.5" fill="#131722" font-weight="normal" text-anchor="start" textLength="61.0" lengthAdjust="spacingAndGlyphs">0.00000700</text>
</g>
<text x="1144.0" y="519.8" font-size="11.5" fill="#131722" font-weight="normal" text-anchor="start" textLength="61.0" lengthAdjust="spacingAndGlyphs">0.00000100</text>
<text x="1144.0" y="554.6" font-size="11.5" fill="#131722" font-weight="normal" text-anchor="start" textLength="61.0" lengthAdjust="spacingAndGlyphs">0.00000050</text>
<text x="1144.0" y="591.0" font-size="11.5" fill="#131722" font-weight="normal" text-anchor="start" textLength="61.0" lengthAdjust="spacingAndGlyphs">0.00000000</text>
<path d="M1134,300 H1210 a2,2 0 0 1 2,2 V328.7 a2,2 0 0 1 -2,2 H1134 Z" fill="#26a69a"/>
<text x="1143.8" y="312.8" font-size="12" fill="#ffffff" font-weight="bold" text-anchor="start" textLength="61.2" lengthAdjust="spacingAndGlyphs">0.00001095</text>
<text x="1143.8" y="326.8" font-size="12" fill="#cdf0ea" font-weight="normal" text-anchor="start" textLength="46.1" lengthAdjust="spacingAndGlyphs">08:16:33</text>
<path d="M1134,330.7 H1210 a2,2 0 0 1 2,2 V345.4 a2,2 0 0 1 -2,2 H1134 Z" fill="#2962ff"/>
<text x="1143.8" y="344.1" font-size="12" fill="#ffffff" font-weight="bold" text-anchor="start" textLength="61.2" lengthAdjust="spacingAndGlyphs">0.00001071</text>
<path d="M1134,573.3 H1209.8 a2,2 0 0 1 2,2 V587.8 a2,2 0 0 1 -2,2 H1134 Z" fill="#26a69a"/>
<text x="1143.9" y="585.6" font-size="12" fill="#ffffff" font-weight="bold" text-anchor="start" textLength="61.1" lengthAdjust="spacingAndGlyphs">0.00000008</text>
<path d="M1134,592.1 H1215.8 a2,2 0 0 1 2,2 V606.9 a2,2 0 0 1 -2,2 H1134 Z" fill="#2962ff"/>
<text x="1144.3" y="604.8" font-size="12" fill="#ffffff" font-weight="bold" text-anchor="start" textLength="66.2" lengthAdjust="spacingAndGlyphs">−0.00000019</text>
<path d="M1134,609 H1215.8 a2,2 0 0 1 2,2 V623.9 a2,2 0 0 1 -2,2 H1134 Z" fill="#ff6d00"/>
<text x="1144.3" y="621.7" font-size="12" fill="#ffffff" font-weight="bold" text-anchor="start" textLength="66.2" lengthAdjust="spacingAndGlyphs">−0.00000027</text>
<text x="90.5" y="661.9" font-size="11.5" fill="#131722" font-weight="normal" text-anchor="middle" textLength="19.0" lengthAdjust="spacingAndGlyphs">Dec</text>
<text x="176.5" y="661.9" font-size="11.5" fill="#131722" font-weight="normal" text-anchor="middle" textLength="11.0" lengthAdjust="spacingAndGlyphs">12</text>
<text x="333.5" y="661.9" font-size="11.5" fill="#131722" font-weight="bold" text-anchor="middle" textLength="26.0" lengthAdjust="spacingAndGlyphs">2023</text>
<text x="450.5" y="661.9" font-size="11.5" fill="#131722" font-weight="normal" text-anchor="middle" textLength="12.0" lengthAdjust="spacingAndGlyphs">16</text>
<text x="576.5" y="661.9" font-size="11.5" fill="#131722" font-weight="normal" text-anchor="middle" textLength="19.5" lengthAdjust="spacingAndGlyphs">Feb</text>
<text x="670.5" y="661.9" font-size="11.5" fill="#131722" font-weight="normal" text-anchor="middle" textLength="11.5" lengthAdjust="spacingAndGlyphs">13</text>
<text x="795.5" y="661.9" font-size="11.5" fill="#131722" font-weight="normal" text-anchor="middle" textLength="20.0" lengthAdjust="spacingAndGlyphs">Mar</text>
<text x="889.5" y="661.9" font-size="11.5" fill="#131722" font-weight="normal" text-anchor="middle" textLength="11.5" lengthAdjust="spacingAndGlyphs">13</text>
<text x="1038.5" y="661.9" font-size="11.5" fill="#131722" font-weight="normal" text-anchor="middle" textLength="18.5" lengthAdjust="spacingAndGlyphs">Apr</text>
<g transform="translate(1038.5,483.4)"><circle r="9.65" fill="#ffffff" stroke="#8e24aa" stroke-width="1.5"/><path d="M3.1,-5.2 L-3.9,0.3 L-0.3,0.6 L-3.2,5.4 L4.2,-0.3 L0.6,-0.6 Z" fill="#8e24aa" stroke="#8e24aa" stroke-width="0.5" stroke-linejoin="round"/></g>
<g fill="#1e222d"><path d="M10.1,684.2 H18.1 V693.4 H13.6 V687.7 H10.1 Z"/><circle cx="20.4" cy="685.8" r="1.6"/><path d="M23.8,684.2 H29.4 L25.9,693.4 H21 Z"/></g>
<text x="33.0" y="693.5" font-size="14" fill="#2a2e39" font-weight="normal" text-anchor="start" textLength="70.0" lengthAdjust="spacingAndGlyphs">TradingView</text>
</svg>
</body></html>
